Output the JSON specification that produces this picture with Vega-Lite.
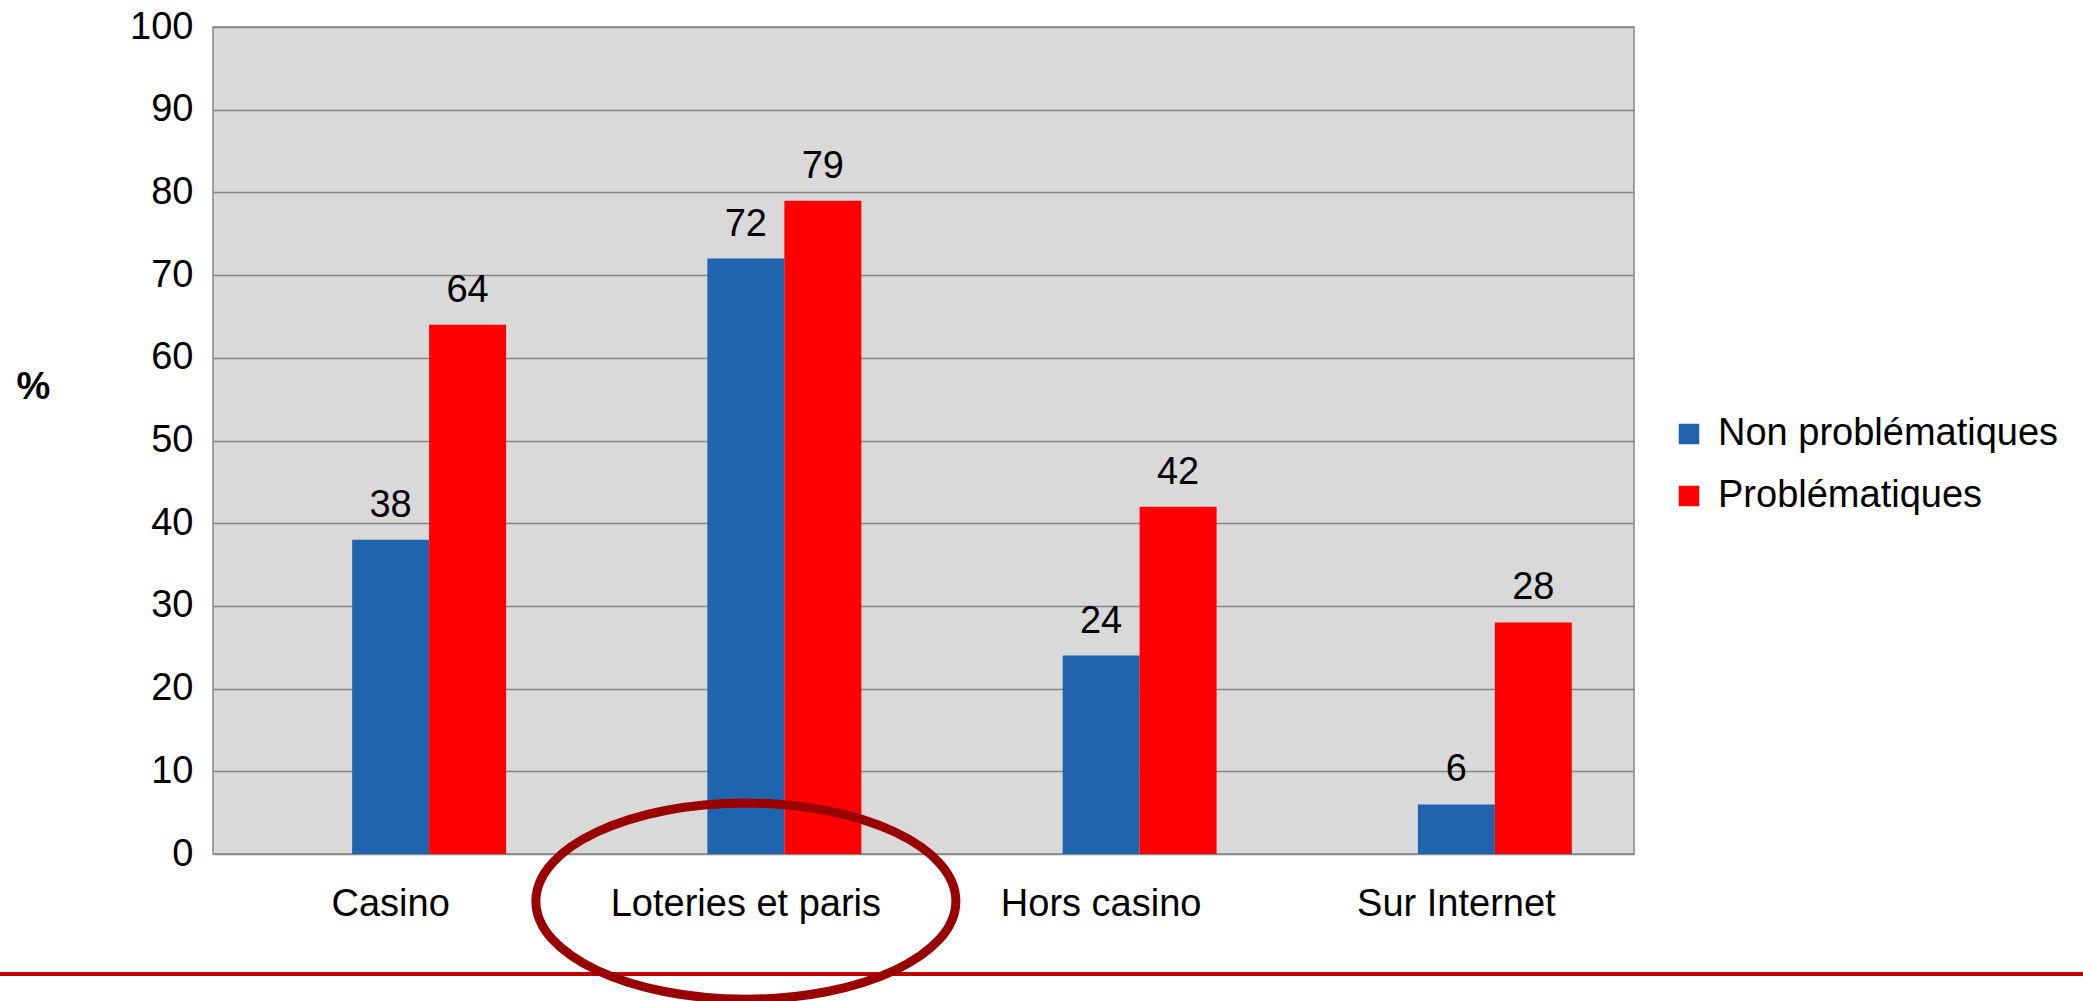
{
  "$schema": "https://vega.github.io/schema/vega-lite/v6.json",
  "width": 1421,
  "height": 827,
  "autosize": {"type": "none"},
  "padding": {"left": 213, "top": 27, "right": 449, "bottom": 147},
  "background": "white",
  "config": {
    "font": "Liberation Sans",
    "view": {"fill": "#d9d9d9", "stroke": "#868686", "strokeWidth": 1.5}
  },
  "data": {
    "values": [
      {"category": "Casino", "group": "Non problématiques", "value": 38},
      {"category": "Casino", "group": "Problématiques", "value": 64},
      {"category": "Loteries et paris", "group": "Non problématiques", "value": 72},
      {"category": "Loteries et paris", "group": "Problématiques", "value": 79},
      {"category": "Hors casino", "group": "Non problématiques", "value": 24},
      {"category": "Hors casino", "group": "Problématiques", "value": 42},
      {"category": "Sur Internet", "group": "Non problématiques", "value": 6},
      {"category": "Sur Internet", "group": "Problématiques", "value": 28}
    ]
  },
  "encoding": {
    "x": {
      "field": "category",
      "type": "nominal",
      "scale": {"domain": ["Casino", "Loteries et paris", "Hors casino", "Sur Internet"], "paddingInner": 0.35, "paddingOuter": 0.175},
      "axis": {"title": null, "labelFontSize": 38, "labelColor": "black", "ticks": false, "domain": false, "labelPadding": 31, "labelAngle": 0, "labelLimit": 0}
    },
    "y": {
      "field": "value",
      "type": "quantitative",
      "scale": {"domain": [0, 100], "nice": false},
      "axis": {
        "values": [0, 10, 20, 30, 40, 50, 60, 70, 80, 90, 100],
        "labelFontSize": 38, "labelColor": "black", "ticks": false, "domain": false, "labelPadding": 20,
        "grid": true, "gridColor": "#868686", "gridWidth": 1.3,
        "title": "%", "titleAngle": 0, "titleFontSize": 38, "titleFontWeight": "bold", "titleColor": "black",
        "titleX": -197, "titleY": 360, "titleAlign": "left", "titleBaseline": "middle"
      }
    }
  },
  "layer": [
    {
      "mark": {"type": "bar"},
      "encoding": {
        "xOffset": {"field": "group", "type": "nominal", "scale": {"domain": ["", "Non problématiques", "Problématiques"], "paddingInner": 0, "paddingOuter": 0}},
        "color": {
          "field": "group",
          "type": "nominal",
          "scale": {"domain": ["Non problématiques", "Problématiques"], "range": ["#1f64ad", "#ff0000"]},
          "legend": {
            "title": null, "orient": "none", "legendX": 1457, "legendY": 388,
            "symbolType": "square", "symbolSize": 420, "symbolStrokeWidth": 0,
            "labelFontSize": 38, "labelColor": "black", "labelOffset": 10, "rowPadding": 24, "padding": 0, "labelLimit": 0
          }
        }
      }
    },
    {
      "mark": {"type": "text", "baseline": "bottom", "dy": -15, "fontSize": 38, "color": "black"},
      "encoding": {
        "xOffset": {"field": "group", "type": "nominal", "scale": {"domain": ["", "Non problématiques", "Problématiques"], "paddingInner": 0, "paddingOuter": 0}},
        "text": {"field": "value", "type": "quantitative"}
      }
    },
    {
      "mark": {"type": "rule", "color": "#c00000", "strokeWidth": 3},
      "encoding": {
        "x": {"value": -213},
        "x2": {"value": 1870},
        "y": {"value": 947}
      }
    },
    {
      "transform": [{"filter": "datum.category === 'Loteries et paris' && datum.group === 'Problématiques'"}],
      "mark": {
        "type": "point",
        "shape": "M -1 0 C -1 -0.258 -0.552 -0.467 0 -0.467 C 0.552 -0.467 1 -0.258 1 0 C 1 0.258 0.552 0.467 0 0.467 C -0.552 0.467 -1 0.258 -1 0 Z",
        "filled": false,
        "stroke": "#990000",
        "strokeWidth": 9,
        "opacity": 1,
        "size": 176400
      },
      "encoding": {
        "y": {"datum": -5.7}
      }
    }
  ]
}
